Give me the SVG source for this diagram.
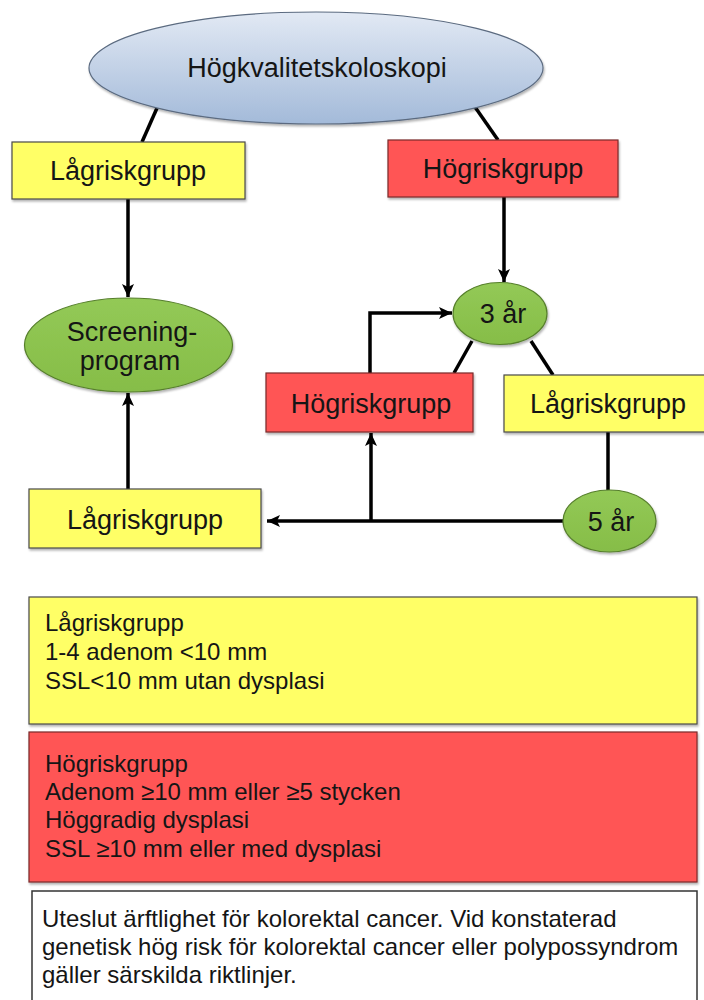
<svg xmlns="http://www.w3.org/2000/svg" width="704" height="1000" viewBox="0 0 704 1000">
  <style>
    .t { font-family: "Liberation Sans", Arial, sans-serif; fill: #151515; }
    .node { font-size: 27px; text-anchor: middle; }
    .info { font-size: 24px; }
    .yellow { fill: #ffff66; stroke: #4a4a4a; stroke-width: 1.2; }
    .red { fill: #ff5555; stroke: #7a2a2a; stroke-width: 1.2; }
    .green { fill: url(#greenGrad); stroke: #567f2c; stroke-width: 1.2; }
    .white { fill: #ffffff; stroke: #333; stroke-width: 1.5; }
    .line { fill: none; stroke: #000; stroke-width: 3.5; }
  </style>
  <defs>
    <linearGradient id="blueGrad" x1="0" y1="0" x2="0" y2="1">
      <stop offset="0" stop-color="#e2e9f4"/>
      <stop offset="1" stop-color="#a3bad9"/>
    </linearGradient>
    <linearGradient id="greenGrad" x1="0" y1="0" x2="0" y2="1">
      <stop offset="0" stop-color="#93c956"/>
      <stop offset="1" stop-color="#86bd48"/>
    </linearGradient>
    <filter id="shadow" x="-5%" y="-5%" width="110%" height="115%">
      <feDropShadow dx="1" dy="2" stdDeviation="1.2" flood-color="#000" flood-opacity="0.3"/>
    </filter>
    <marker id="arrow" markerUnits="userSpaceOnUse" markerWidth="14" markerHeight="14" viewBox="0 0 14 14" refX="13" refY="7" orient="auto">
      <path d="M0,1 L13,7 L0,13 L3,7 Z" fill="#000"/>
    </marker>
  </defs>

  <g id="connectors">
    <line class="line" x1="157" y1="108" x2="142" y2="142"/>
    <line class="line" x1="475" y1="107" x2="498" y2="140"/>
    <line class="line" x1="128" y1="199" x2="128" y2="297" marker-end="url(#arrow)"/>
    <line class="line" x1="504" y1="197" x2="504" y2="282" marker-end="url(#arrow)"/>
    <line class="line" x1="128" y1="489" x2="128" y2="393" marker-end="url(#arrow)"/>
    <polyline class="line" points="370,373 370,313 452,313" marker-end="url(#arrow)"/>
    <line class="line" x1="472" y1="341" x2="454" y2="373"/>
    <line class="line" x1="531" y1="341" x2="553" y2="375"/>
    <line class="line" x1="608" y1="432" x2="608" y2="490"/>
    <line class="line" x1="563" y1="521" x2="267" y2="521" marker-end="url(#arrow)"/>
    <line class="line" x1="371" y1="521" x2="371" y2="433" marker-end="url(#arrow)"/>
  </g>

  <g id="n-hogkvalitet">
    <ellipse cx="316" cy="68" rx="227" ry="56" fill="url(#blueGrad)" stroke="#5b6b80" stroke-width="1.2" filter="url(#shadow)"/>
    <text class="t node" x="317" y="77">Högkvalitetskoloskopi</text>
  </g>

  <g id="n-lag1">
    <rect class="yellow" x="12" y="142" width="233" height="57" filter="url(#shadow)"/>
    <text class="t node" x="128" y="180">Lågriskgrupp</text>
  </g>

  <g id="n-hog1">
    <rect class="red" x="388" y="140" width="230" height="57" filter="url(#shadow)"/>
    <text class="t node" x="503" y="178">Högriskgrupp</text>
  </g>

  <g id="n-screening">
    <ellipse class="green" cx="128.5" cy="345" rx="104" ry="47" filter="url(#shadow)"/>
    <text class="t node" x="132" y="341">Screening-</text>
    <text class="t node" x="130" y="370">program</text>
  </g>

  <g id="n-3ar">
    <ellipse class="green" cx="500" cy="313.5" rx="47" ry="31" filter="url(#shadow)"/>
    <text class="t node" x="503" y="323">3 år</text>
  </g>

  <g id="n-hog2">
    <rect class="red" x="266" y="373" width="207" height="59" filter="url(#shadow)"/>
    <text class="t node" x="371" y="413">Högriskgrupp</text>
  </g>

  <g id="n-lag2">
    <rect class="yellow" x="504" y="375" width="203" height="57" filter="url(#shadow)"/>
    <text class="t node" x="608" y="413">Lågriskgrupp</text>
  </g>

  <g id="n-5ar">
    <ellipse class="green" cx="609.5" cy="521" rx="46.5" ry="31" filter="url(#shadow)"/>
    <text class="t node" x="611" y="531">5 år</text>
  </g>

  <g id="n-lag3">
    <rect class="yellow" x="29" y="489" width="232" height="59" filter="url(#shadow)"/>
    <text class="t node" x="145" y="529">Lågriskgrupp</text>
  </g>

  <g id="legend-lag">
    <rect class="yellow" x="29" y="597" width="668" height="127" filter="url(#shadow)"/>
    <text class="t info" x="45" y="631">Lågriskgrupp</text>
    <text class="t info" x="45" y="660">1-4 adenom &lt;10 mm</text>
    <text class="t info" x="45" y="689">SSL&lt;10 mm utan dysplasi</text>
  </g>

  <g id="legend-hog">
    <rect class="red" x="29" y="732" width="668" height="150" filter="url(#shadow)"/>
    <text class="t info" x="45" y="772">Högriskgrupp</text>
    <text class="t info" x="45" y="800">Adenom ≥10 mm eller ≥5 stycken</text>
    <text class="t info" x="45" y="828">Höggradig dysplasi</text>
    <text class="t info" x="45" y="857">SSL ≥10 mm eller med dysplasi</text>
  </g>

  <g id="note">
    <rect class="white" x="32" y="891" width="665" height="115"/>
    <text class="t info" x="42" y="927">Uteslut ärftlighet för kolorektal cancer. Vid konstaterad</text>
    <text class="t info" x="42" y="955">genetisk hög risk för kolorektal cancer eller polypossyndrom</text>
    <text class="t info" x="42" y="983">gäller särskilda riktlinjer.</text>
  </g>
</svg>
